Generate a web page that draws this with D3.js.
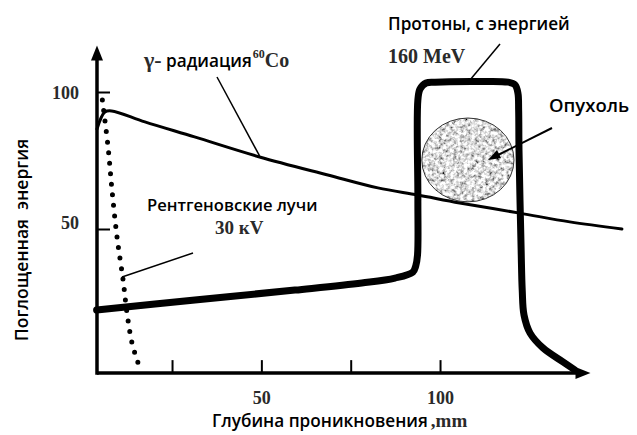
<!DOCTYPE html>
<html><head><meta charset="utf-8">
<script src="https://cdn.jsdelivr.net/npm/d3@7"></script>
<style>
html,body{margin:0;padding:0;background:#fff;}
.sans{font-family:"Open Sans",sans-serif;font-weight:600;fill:#000;}
.serif{font-family:"Liberation Serif","Times New Roman",serif;font-weight:bold;fill:#2a2a2a;}
</style></head>
<body><svg id="c" width="637" height="435"></svg>
<script>
// ---- data ----
const xTicks = [25, 50, 75, 100];
const xTickLabels = ["", "50", "", "100"];
const yTicks = [50, 100];
const yTickLabels = ["50", "100"];

const gammaDepth = [4.0, 6.2, 8.1, 17.4, 31.3, 49.5, 68.6, 82.6, 93.8, 105.5, 122.3, 136.3, 150.9];
const gammaDose  = [86.5, 92.7, 93.1, 89.1, 83.6, 76.3, 69.7, 65.0, 62.4, 59.5, 55.8, 52.6, 50.0];

const xrayDepth = [5.5, 7.1, 8.2, 9.6, 11.3, 12.4, 13.8, 15.5];
const xrayDose  = [97.1, 79.9, 64.2, 47.1, 31.4, 19.3, 8.4, 1.1];

const protonDepth = [3.9, 31.4, 59.4, 78.1, 87.4, 92.4, 93.2, 93.7, 93.8, 93.8, 94.4, 96.1, 98.6, 109.8, 119.0, 121.0, 121.8, 122.0, 122.1, 122.7, 123.0, 123.5, 125.2, 128.8, 134.4, 137.6];
const protonDose  = [20.4, 24.1, 27.7, 30.3, 32.1, 34.3, 36.5, 40.5, 60.6, 97.1, 101.1, 103.3, 103.6, 103.8, 103.6, 102.6, 99.6, 93.4, 78.8, 42.3, 27.7, 18.6, 12.0, 6.6, 1.5, -1.3];

const tumorDepth = 107.8, tumorDose = 75.2, tumorHalfWidth = 12.9, tumorHalfHeight = 15.3;

// ---- scales ----
const svg = d3.select("#c");
const x = d3.scaleLinear().domain([0, 150]).range([82.7, 618.7]);
const y = d3.scaleLinear().domain([0, 100]).range([366, 92]);
const xAxisStart = 4.0, xAxisEnd = 142.1, yAxisBottom = -2.6, yAxisTop = 117;

const defs = svg.append("defs");
const f = defs.append("filter").attr("id","noise").attr("x","0").attr("y","0").attr("width","100%").attr("height","100%");
f.append("feTurbulence").attr("type","fractalNoise").attr("baseFrequency","0.28").attr("numOctaves","3").attr("seed","11").attr("result","t");
f.append("feColorMatrix").attr("in","t").attr("type","matrix")
 .attr("values","2.0 0 0 0 -0.28  2.0 0 0 0 -0.28  2.0 0 0 0 -0.28  0 0 0 0 1").attr("result","g");
f.append("feComposite").attr("in","g").attr("in2","SourceGraphic").attr("operator","in");

// tumor
const tcx = x(tumorDepth), tcy = y(tumorDose);
const trx = x(tumorDepth + tumorHalfWidth) - tcx, try_ = y(tumorDose - tumorHalfHeight) - tcy;
svg.append("ellipse").attr("cx",tcx).attr("cy",tcy).attr("rx",trx).attr("ry",try_)
  .attr("fill","#aaa").attr("filter","url(#noise)");
svg.append("ellipse").attr("cx",tcx).attr("cy",tcy).attr("rx",trx).attr("ry",try_)
  .attr("fill","none").attr("stroke","#333").attr("stroke-width",1);

// axes
const xAxis = d3.axisBottom(x).tickValues(xTicks).tickSize(-13).tickPadding(18)
  .tickFormat((d,i)=>xTickLabels[i]);
const gx = svg.append("g").attr("transform",`translate(0,${y(yAxisBottom)})`).call(xAxis);
gx.select(".domain").remove();
gx.selectAll(".tick line").attr("stroke","#000").attr("stroke-width",2);
gx.selectAll(".tick text").attr("class","serif").attr("font-size",18).attr("fill","#2a2a2a");

const yAxis = d3.axisLeft(y).tickValues(yTicks).tickSize(-13).tickPadding(18)
  .tickFormat((d,i)=>yTickLabels[i]);
const gy = svg.append("g").attr("transform",`translate(${x(xAxisStart)},0)`).call(yAxis);
gy.select(".domain").remove();
gy.selectAll(".tick line").attr("stroke","#000").attr("stroke-width",2);
gy.selectAll(".tick text").attr("class","serif").attr("font-size",18).attr("fill","#2a2a2a")
  .attr("dy",(d)=> d===50 ? "-0.05em" : "0.35em");

const axisG = svg.append("g");
axisG.append("line").attr("x1",x(xAxisStart)).attr("x2",x(xAxisEnd)-10).attr("y1",y(yAxisBottom)).attr("y2",y(yAxisBottom))
  .attr("stroke","#000").attr("stroke-width",3.5);
axisG.append("line").attr("x1",x(xAxisStart)).attr("x2",x(xAxisStart)).attr("y1",y(yAxisBottom)+1.7).attr("y2",y(yAxisTop)+10)
  .attr("stroke","#000").attr("stroke-width",3.5);
const ax = x(xAxisEnd), ay = y(yAxisBottom);
axisG.append("path").attr("d",`M${ax},${ay} L${ax-15},${ay-6} L${ax-15},${ay+6} Z`).attr("fill","#000");
const bx = x(xAxisStart), by = y(yAxisTop);
axisG.append("path").attr("d",`M${bx},${by} L${bx-6},${by+15} L${bx+6},${by+15} Z`).attr("fill","#000");

// curves
const line = d3.line().curve(d3.curveCatmullRom.alpha(0.5));
const gammaPts = gammaDepth.map((d,i)=>[x(d), y(gammaDose[i])]);
const xrayPts = xrayDepth.map((d,i)=>[x(d), y(xrayDose[i])]);
const protonPts = protonDepth.map((d,i)=>[x(d), y(protonDose[i])]);

svg.append("path").attr("d",line(xrayPts)).attr("fill","none").attr("stroke","#000")
  .attr("stroke-width",5).attr("stroke-linecap","round").attr("stroke-dasharray","0 10.6");
svg.append("path").attr("d",line(gammaPts)).attr("fill","none").attr("stroke","#000")
  .attr("stroke-width",3).attr("stroke-linecap","round");
svg.append("path").attr("d",line(protonPts)).attr("fill","none").attr("stroke","#000")
  .attr("stroke-width",7).attr("stroke-linecap","round").attr("stroke-linejoin","round");

// leader lines
const leader = (x1,y1,x2,y2,w)=>svg.append("line").attr("x1",x1).attr("y1",y1).attr("x2",x2).attr("y2",y2)
  .attr("stroke","#000").attr("stroke-width",w||1.5);
leader(217,77, x(49.5), y(76.3)-1);
leader(500,44, x(108.5), y(103.8)-2);
leader(193,253, x(11.0), y(32.5));
leader(552,128, 496,156, 2);
svg.append("path").attr("d","M488,160 L497,150 L501,158 Z").attr("fill","#000");

// labels
svg.append("text").attr("class","sans").attr("font-size",17.2).attr("x",388).attr("y",30).text("Протоны, с энергией");
svg.append("text").attr("class","serif").attr("font-size",20).attr("x",388).attr("y",63).text("160 MeV");

svg.append("text").attr("class","serif").attr("font-size",22).attr("fill","#000").attr("x",144).attr("y",67).text("γ-");
const g1 = svg.append("text").attr("x",166).attr("y",67);
g1.append("tspan").attr("class","sans").attr("font-size",17.2).text("радиация");
g1.append("tspan").attr("class","serif").attr("font-size",12).attr("dy",-9).attr("dx",1).text("60");
g1.append("tspan").attr("class","serif").attr("font-size",20).attr("dy",9).text("Co");

svg.append("text").attr("class","sans").attr("font-size",16.6).attr("x",147).attr("y",211).text("Рентгеновские лучи");
svg.append("text").attr("class","serif").attr("font-size",19).attr("x",215).attr("y",234).text("30 кV");

svg.append("text").attr("class","sans").attr("font-size",18.5).attr("x",549).attr("y",112).text("Опухоль");

const xl = svg.append("text").attr("x",212).attr("y",427);
xl.append("tspan").attr("class","sans").attr("font-size",17.2).text("Глубина проникновения");
xl.append("tspan").attr("class","serif").attr("font-size",19).attr("fill","#000").attr("dx",3).text(",mm");

svg.append("text").attr("class","sans").attr("font-size",17.5).attr("text-anchor","middle")
  .attr("transform","translate(28,240) rotate(-90)").style("white-space","pre").text("Поглощенная  энергия");
</script></body></html>
